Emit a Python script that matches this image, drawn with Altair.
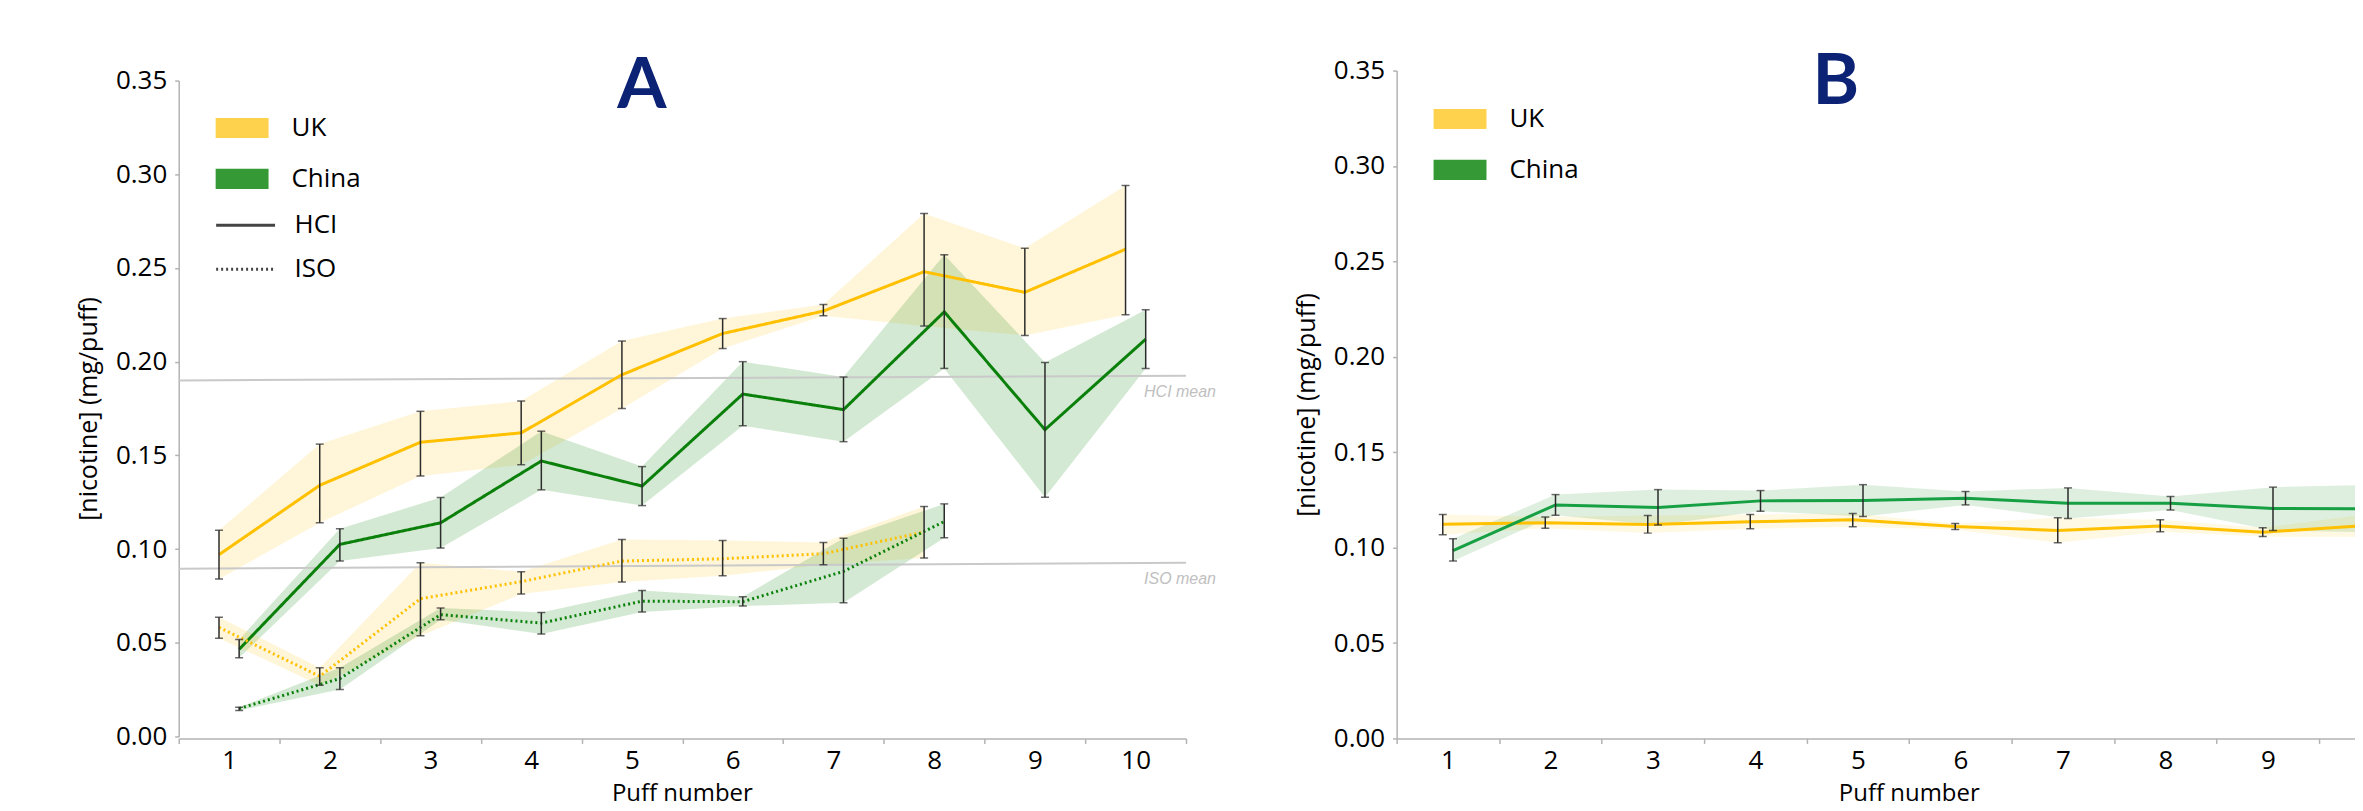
import altair as alt
import pandas as pd

# ---------------- data ----------------
puffs = [1, 2, 3, 4, 5, 6, 7, 8, 9, 10]
puffs_iso = [1, 2, 3, 4, 5, 6, 7, 8]
countries = ["UK", "China"]
methods = ["HCI", "ISO"]
panel_labels = ["A", "B"]

# Panel A - HCI
a_uk_hci_mean = [0.097, 0.134, 0.157, 0.162, 0.193, 0.215, 0.227, 0.248, 0.237, 0.260]
a_uk_hci_lo = [0.084, 0.114, 0.139, 0.145, 0.175, 0.207, 0.2245, 0.219, 0.214, 0.225]
a_uk_hci_hi = [0.110, 0.156, 0.1735, 0.179, 0.211, 0.223, 0.2305, 0.279, 0.2605, 0.294]
a_cn_hci_mean = [0.0465, 0.1025, 0.114, 0.147, 0.1336, 0.1827, 0.1744, 0.2266, 0.1637, 0.212]
a_cn_hci_lo = [0.042, 0.0936, 0.1005, 0.1316, 0.1232, 0.1658, 0.1573, 0.1964, 0.1277, 0.1964]
a_cn_hci_hi = [0.0518, 0.1108, 0.1275, 0.1629, 0.144, 0.200, 0.1918, 0.257, 0.1996, 0.2277]
# Panel A - ISO
a_uk_iso_mean = [0.0582, 0.0321, 0.0735, 0.0826, 0.0936, 0.0948, 0.0975, 0.1091]
a_uk_iso_lo = [0.0524, 0.0273, 0.0537, 0.0760, 0.0824, 0.0858, 0.0916, 0.0952]
a_uk_iso_hi = [0.0636, 0.0366, 0.0927, 0.0879, 0.1051, 0.1046, 0.1035, 0.1227]
a_cn_iso_mean = [0.0149, 0.0309, 0.0650, 0.0605, 0.0722, 0.0719, 0.0881, 0.1147]
a_cn_iso_lo = [0.0139, 0.0250, 0.0623, 0.0547, 0.0664, 0.0696, 0.0714, 0.1060]
a_cn_iso_hi = [0.0156, 0.0366, 0.0686, 0.0661, 0.0779, 0.0746, 0.1057, 0.1241]

# Panel B
b_uk_mean = [0.1123, 0.1130, 0.1121, 0.1135, 0.1146, 0.1111, 0.1090, 0.1113, 0.1081, 0.1116]
b_uk_lo = [0.1067, 0.1102, 0.1076, 0.1099, 0.1109, 0.1095, 0.1025, 0.1083, 0.1058, 0.1055]
b_uk_hi = [0.1174, 0.1161, 0.1168, 0.1174, 0.1179, 0.1126, 0.1156, 0.1146, 0.1104, 0.1174]
b_cn_mean = [0.0984, 0.1224, 0.1210, 0.1245, 0.1247, 0.1259, 0.1233, 0.1233, 0.1205, 0.1203]
b_cn_lo = [0.0930, 0.1170, 0.1118, 0.1191, 0.1163, 0.1224, 0.1153, 0.1197, 0.1090, 0.1080]
b_cn_hi = [0.1046, 0.1278, 0.1304, 0.1299, 0.1330, 0.1294, 0.1313, 0.1268, 0.1317, 0.1330]

# reference mean lines (panel A)
mean_names = ["HCI mean", "ISO mean"]
mean_start = [0.1900, 0.0895]
mean_end = [0.1925, 0.0927]

y_ticks = [0.0, 0.05, 0.10, 0.15, 0.20, 0.25, 0.30, 0.35]
x_ticks = [i / 2 for i in range(1, 22)]

# ---------------- styling ----------------
FONT = "Open Sans"
UK_FILL, CN_FILL = "#FFD24D", "#359A35"
UK_LINE = "#FFC000"
CN_LINE_A, CN_LINE_B = "#0A800A", "#16A043"
ERR = "#2b2b2b"
LABEL_COL = "#0B2275"
dodge_a = {"UK": -0.1, "China": 0.1}
dodge_b = {"UK": -0.05, "China": 0.05}


def rows(country, method, xs, mean, lo, hi, dodge):
    return pd.DataFrame({
        "country": country, "method": method, "puff": xs,
        "xp": [x + dodge[country] for x in xs],
        "mean": mean, "lo": lo, "hi": hi,
    })


dfA = pd.concat([
    rows("UK", "HCI", puffs, a_uk_hci_mean, a_uk_hci_lo, a_uk_hci_hi, dodge_a),
    rows("China", "HCI", puffs, a_cn_hci_mean, a_cn_hci_lo, a_cn_hci_hi, dodge_a),
    rows("UK", "ISO", puffs_iso, a_uk_iso_mean, a_uk_iso_lo, a_uk_iso_hi, dodge_a),
    rows("China", "ISO", puffs_iso, a_cn_iso_mean, a_cn_iso_lo, a_cn_iso_hi, dodge_a),
], ignore_index=True)
dfB = pd.concat([
    rows("UK", "HCI", puffs, b_uk_mean, b_uk_lo, b_uk_hi, dodge_b),
    rows("China", "HCI", puffs, b_cn_mean, b_cn_lo, b_cn_hi, dodge_b),
], ignore_index=True)
df_means = pd.DataFrame({"name": mean_names, "x0": [0.5, 0.5], "x1": [10.5, 10.5],
                         "y0": mean_start, "y1": mean_end})

tick_cond = {"condition": {"test": "datum.value % 1 === 0", "value": 0}, "value": 1}


def x_axis(title_x):
    return alt.Axis(values=x_ticks, title="Puff number",
                    labelExpr="datum.value % 1 === 0 ? format(datum.value, 'd') : ''",
                    tickOpacity=tick_cond, tickSize=5, labelOverlap=False, labelFlush=False,
                    labelPadding=4, titlePadding=8, titleFontSize=24, titleX=title_x, grid=False)


def y_axis():
    return alt.Axis(values=y_ticks, format=".2f", title="[nicotine] (mg/puff)",
                    tickSize=4, labelPadding=8, titlePadding=14, grid=False)


rect_path = "M-1,-0.38L1,-0.38L1,0.38L-1,0.38Z"


def fill_legend(lx, ly):
    return alt.Legend(title=None, orient="none", legendX=lx, legendY=ly,
                      symbolType=rect_path, symbolSize=2809, symbolOpacity=1,
                      symbolStrokeWidth=0, labelFont=FONT, labelFontSize=26,
                      labelColor="black", labelOffset=23, rowPadding=11, padding=0)


def panel(df, xdom, yrange, cn_line, title_x, with_method, band_op, legend_y, ref_df=None):
    xs = alt.Scale(domain=xdom, nice=False, zero=False)
    ys = alt.Scale(domain=[0, 0.35], nice=False, range=yrange)
    xa = x_axis(title_x)
    ya = y_axis()

    def X(f):
        return alt.X(f, scale=xs, axis=xa)

    def Y(f):
        return alt.Y(f, scale=ys, axis=ya)

    base = alt.Chart(df)
    band = base.mark_area(opacity=band_op, clip=True).encode(
        x=X("xp:Q"), y=Y("lo:Q"), y2="hi:Q",
        fill=alt.Fill("country:N", scale=alt.Scale(domain=countries, range=[UK_FILL, CN_FILL]),
                      legend=fill_legend(37, legend_y)),
        detail="method:N",
    )
    layers = [band]
    if ref_df is not None:
        refs = alt.Chart(ref_df).mark_rule(color="#c9c9c9", strokeWidth=2).encode(
            x=X("x0:Q"), x2="x1:Q", y=Y("y0:Q"), y2="y1:Q")
        ref_txt = alt.Chart(ref_df).mark_text(
            font="Liberation Sans", fontStyle="italic", fontSize=16, color="#c0c0c0",
            align="center", baseline="top", dx=-6, dy=8).encode(
            x=X("x1:Q"), y=Y("y1:Q"), text="name:N")
        layers += [refs, ref_txt]
    line_enc = dict(
        x=X("xp:Q"), y=Y("mean:Q"),
        stroke=alt.Stroke("country:N", scale=alt.Scale(domain=countries, range=[UK_LINE, cn_line]),
                          legend=None),
    )
    if with_method:
        line_enc["strokeDash"] = alt.StrokeDash(
            "method:N", scale=alt.Scale(domain=methods, range=[[1, 0], [2, 3]]),
            legend=alt.Legend(title=None, orient="none", legendX=36, legendY=124,
                              symbolType="stroke", symbolSize=3481, symbolStrokeColor="#444444",
                              symbolStrokeWidth=3, labelFont=FONT, labelFontSize=26,
                              labelColor="black", labelOffset=18, rowPadding=-21, padding=0))
    else:
        line_enc["detail"] = "method:N"
    lines = base.mark_line(strokeWidth=3, clip=True).encode(**line_enc)
    errs = base.mark_rule(color=ERR, strokeWidth=1.5, clip=True).encode(
        x=X("xp:Q"), y=Y("lo:Q"), y2="hi:Q")
    cap_lo = base.mark_tick(orient="horizontal", size=8, thickness=1.5, color=ERR, clip=True).encode(
        x=X("xp:Q"), y=Y("lo:Q"))
    cap_hi = base.mark_tick(orient="horizontal", size=8, thickness=1.5, color=ERR, clip=True).encode(
        x=X("xp:Q"), y=Y("hi:Q"))
    layers += [lines, errs, cap_lo, cap_hi]
    return layers


def letter(text, px, py):
    return alt.Chart(pd.DataFrame({"t": [text]})).mark_text(
        font="Lato", fontWeight="bold", fontSize=71, color=LABEL_COL, align="center",
        baseline="alphabetic").encode(text="t:N", x=alt.value(px), y=alt.value(py))


layersA = panel(dfA, [0.5, 10.5], [667, 10], CN_LINE_A, 504, True, 0.22, 31, df_means)
chartA = alt.layer(*layersA, letter(panel_labels[0], 464, 37)).properties(width=1009, height=669)

layersB = panel(dfB, [0.5, 9.85], [669, 0], CN_LINE_B, 513, False, 0.16, 22)
chartB = alt.layer(*layersB, letter(panel_labels[1], 440, 33)).properties(width=960, height=669)

chart = alt.hconcat(chartA, chartB, spacing=211, bounds="flush").resolve_scale(
    fill="independent", stroke="independent", strokeDash="independent"
).resolve_legend(
    fill="independent", stroke="independent", strokeDash="independent"
).properties(
    padding={"left": 68, "top": 38, "right": 0, "bottom": 10}, background="white"
).configure_view(strokeWidth=0).configure_axis(
    labelFont=FONT, labelFontSize=26, labelColor="black",
    titleFont=FONT, titleFontSize=25, titleFontWeight="normal", titleColor="black",
    domainColor="#b3b3b3", tickColor="#b3b3b3", domainWidth=1.5, tickWidth=1.5,
)

chart.save("out.html", embed_options={"renderer": "svg", "actions": False})
